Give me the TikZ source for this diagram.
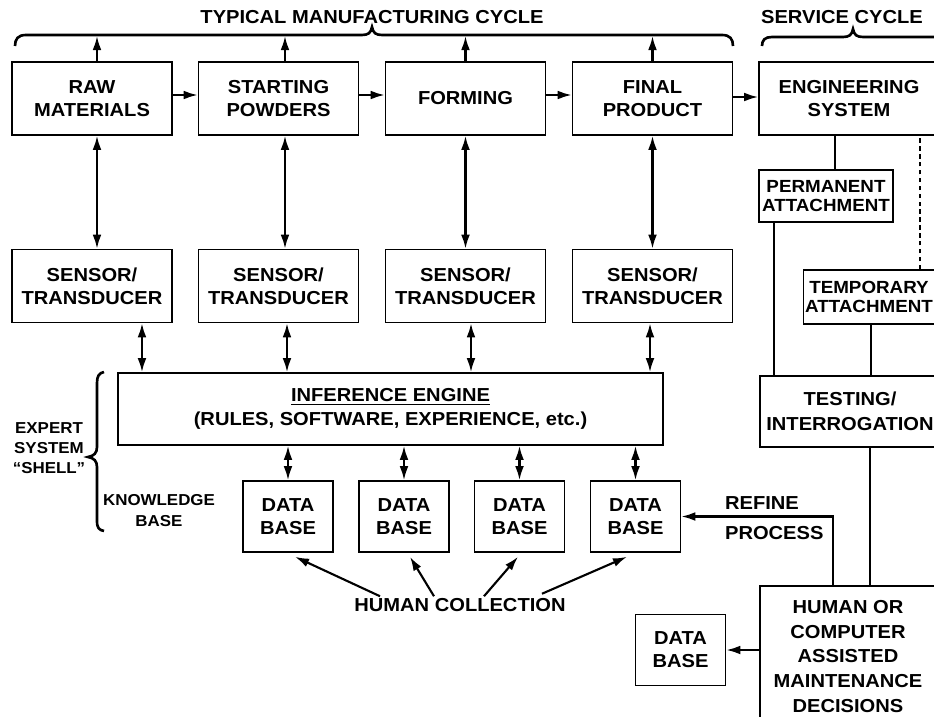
\documentclass[tikz,border=0pt]{standalone}
\usepackage{fontspec}
\setmainfont{Liberation Sans}[FakeStretch=1.07]
\usetikzlibrary{arrows.meta}

\begin{document}
\begin{tikzpicture}[x=0.02cm, y=-0.02cm,
        box/.style={draw, line width=0.9pt, align=center, inner sep=1pt,
            font=\bfseries\fontsize{10.7}{13}\selectfont},
        bigbox/.style={box, minimum width=3.2cm, minimum height=1.46cm},
        smallbox/.style={box, font=\bfseries\fontsize{10}{10.5}\selectfont},
        dbbox/.style={box, minimum width=1.8cm, minimum height=1.42cm},
        arr/.style={line width=1.2pt, -{Latex[length=8pt,width=5pt]}},
        dbl/.style={line width=1.2pt, {Latex[length=8pt,width=5pt]}-{Latex[length=8pt,width=5pt]}},
        link/.style={line width=1.1pt},
        brace/.style={line width=1.5pt},
        lbl/.style={font=\bfseries\fontsize{10.7}{13}\selectfont, inner sep=1pt}]
        \path[use as bounding box] (0,0) rectangle (934,717);
        \clip (0,0) rectangle (934,717);

        % manufacturing cycle
        \node[bigbox] (raw) at (92,98.5) {RAW\\MATERIALS};
        \node[bigbox] (powders) at (278.5,98.5) {STARTING\\POWDERS};
        \node[bigbox] (forming) at (465.5,98.5) {FORMING};
        \node[bigbox] (product) at (652.5,98.5) {FINAL\\PRODUCT};
        \node[bigbox, minimum width=3.6cm] (engsys) at (849,98.5) {ENGINEERING\\SYSTEM};

        \node[bigbox] (sen1) at (92,286) {SENSOR/\\TRANSDUCER};
        \node[bigbox] (sen2) at (278.5,286) {SENSOR/\\TRANSDUCER};
        \node[bigbox] (sen3) at (465.5,286) {SENSOR/\\TRANSDUCER};
        \node[bigbox] (sen4) at (652.5,286) {SENSOR/\\TRANSDUCER};

        \node[box, minimum width=10.9cm, minimum height=1.44cm,
            font=\bfseries\fontsize{10.7}{14}\selectfont] (inf) at (390.5,409)
            {\underline{INFERENCE ENGINE}\\(RULES, SOFTWARE, EXPERIENCE, etc.)};

        \node[dbbox] (db1) at (288,516.5) {DATA\\BASE};
        \node[dbbox] (db2) at (404,516.5) {DATA\\BASE};
        \node[dbbox] (db3) at (519.5,516.5) {DATA\\BASE};
        \node[dbbox] (db4) at (635.5,516.5) {DATA\\BASE};

        % service cycle
        \node[smallbox, minimum width=2.68cm, minimum height=1.04cm] (perm) at (826,196) {PERMANENT\\ATTACHMENT};
        \node[smallbox, minimum width=2.56cm, minimum height=1.08cm] (temp) at (869,297) {TEMPORARY\\ATTACHMENT};
        \node[box, minimum width=3.6cm, minimum height=1.42cm,
            font=\bfseries\fontsize{10.7}{14}\selectfont] (test) at (850,411.5) {TESTING/\\INTERROGATION};
        \node[box, minimum width=3.52cm, minimum height=2.82cm,
            font=\bfseries\fontsize{10.7}{14}\selectfont] (human) at (848,656.5)
            {HUMAN OR\\COMPUTER\\ASSISTED\\MAINTENANCE\\DECISIONS};
        \node[dbbox] (dbm) at (680.5,650) {DATA\\BASE};

        % labels
        \node[lbl] (mfg) at (372,17) {TYPICAL MANUFACTURING CYCLE};
        \node[lbl] (svc) at (842,17) {SERVICE CYCLE};
        \node[lbl, align=center, font=\bfseries\fontsize{9}{11.4}\selectfont] (shell) at (49,448) {EXPERT\\SYSTEM\\“SHELL”};
        \node[lbl, align=center, font=\bfseries\fontsize{9}{12}\selectfont] (kb) at (159,510.5) {KNOWLEDGE\\BASE};
        \node[lbl] (hc) at (460,605) {HUMAN COLLECTION};
        \node[lbl, anchor=west] (refine) at (723,503) {REFINE};
        \node[lbl, anchor=west] (process) at (723,533) {PROCESS};

        % braces
        \coordinate (top) at (0,36);
        \draw[brace] (15,46) .. controls (15,39) and (18,35) .. (26,35) -- (362,35)
            .. controls (368,35) and (371,33) .. (372,27) .. controls (373,33) and (376,35) .. (382,35)
            -- (722,35) .. controls (730,35) and (733,39) .. (733,46);
        \draw[brace] (762,46) .. controls (762,40) and (765,37) .. (772,37) -- (843,37)
            .. controls (849,37) and (852,35) .. (853,29) .. controls (854,35) and (857,37) .. (863,37)
            -- (940,37);
        \draw[brace] (104,372) .. controls (99,373) and (97,376) .. (97,383) -- (97,447)
            .. controls (97,453) and (94,456) .. (88,457) .. controls (94,458) and (97,461) .. (97,467)
            -- (97,521) .. controls (97,528) and (99,530) .. (104,531);

        % process flow
        \draw[arr] ([yshift=.07cm]raw.east) -- ([yshift=.07cm]powders.west);
        \draw[arr] ([yshift=.07cm]powders.east) -- ([yshift=.07cm]forming.west);
        \draw[arr] ([yshift=.07cm]forming.east) -- ([yshift=.07cm]forming.east -| product.west);
        \draw[arr] ([yshift=.03cm]product.east) -- ([yshift=.03cm]engsys.west);

        % up to the cycle brace
        \draw[arr] ([xshift=.1cm]raw.north) -- ([xshift=.1cm]raw.north |- top);
        \draw[arr] ([xshift=.13cm]powders.north) -- ([xshift=.13cm]powders.north |- top);
        \draw[arr] (forming.north) -- (forming.north |- top);
        \draw[arr] (product.north) -- (product.north |- top);

        % process <-> sensors <-> inference engine
        \draw[dbl] ([xshift=.1cm]raw.south) -- ([xshift=.1cm]sen1.north);
        \draw[dbl] ([xshift=.13cm]powders.south) -- ([xshift=.13cm]sen2.north);
        \draw[dbl] (forming.south) -- (sen3.north);
        \draw[dbl] (product.south) -- (sen4.north);
        \draw[dbl] ([xshift=1cm]sen1.south) -- ([xshift=1cm]sen1.south |- inf.north);
        \draw[dbl] ([xshift=.17cm]sen2.south) -- ([xshift=.17cm]sen2.south |- inf.north);
        \draw[dbl] ([xshift=.11cm]sen3.south) -- ([xshift=.11cm]sen3.south |- inf.north);
        \draw[dbl] ([xshift=-.05cm]sen4.south) -- ([xshift=-.05cm]sen4.south |- inf.north);

        % inference engine <-> data bases
        \draw[dbl] (db1.north) -- (db1.north |- inf.south);
        \draw[dbl] (db2.north) -- (db2.north |- inf.south);
        \draw[dbl] (db3.north) -- (db3.north |- inf.south);
        \draw[dbl] (db4.north) -- (db4.north |- inf.south);

        \draw[arr] ([xshift=-1.6cm]hc.north) -- ([xshift=.14cm, yshift=-.08cm]db1.south);
        \draw[arr] ([xshift=-.52cm]hc.north) -- ([xshift=.12cm, yshift=-.08cm]db2.south);
        \draw[arr] ([xshift=.48cm]hc.north) -- ([xshift=-.03cm, yshift=-.08cm]db3.south);
        \draw[arr] ([xshift=1.64cm, yshift=.05cm]hc.north) -- ([xshift=-.17cm, yshift=-.08cm]db4.south);

        % service links
        \draw[link] ([xshift=.18cm]perm.north) -- ([xshift=.18cm]perm.north |- engsys.south);
        \draw[link, dash pattern=on 2.5pt off 2pt] ([xshift=-.3cm]temp.north east) -- ([xshift=-.3cm]temp.north east |- engsys.south);
        \draw[link] ([xshift=.32cm]perm.south west) -- ([xshift=.32cm]perm.south west |- test.north);
        \draw[link] ([xshift=.04cm]temp.south) -- ([xshift=.04cm]temp.south |- test.north);
        \draw[link] ([xshift=.4cm]test.south) -- ([xshift=.4cm]test.south |- human.north);
        \draw[arr] ([xshift=-.3cm]human.north) |- (db4.east);
        \draw[arr] (human.west |- dbm.east) -- (dbm.east);
    \end{tikzpicture}
\end{document}
